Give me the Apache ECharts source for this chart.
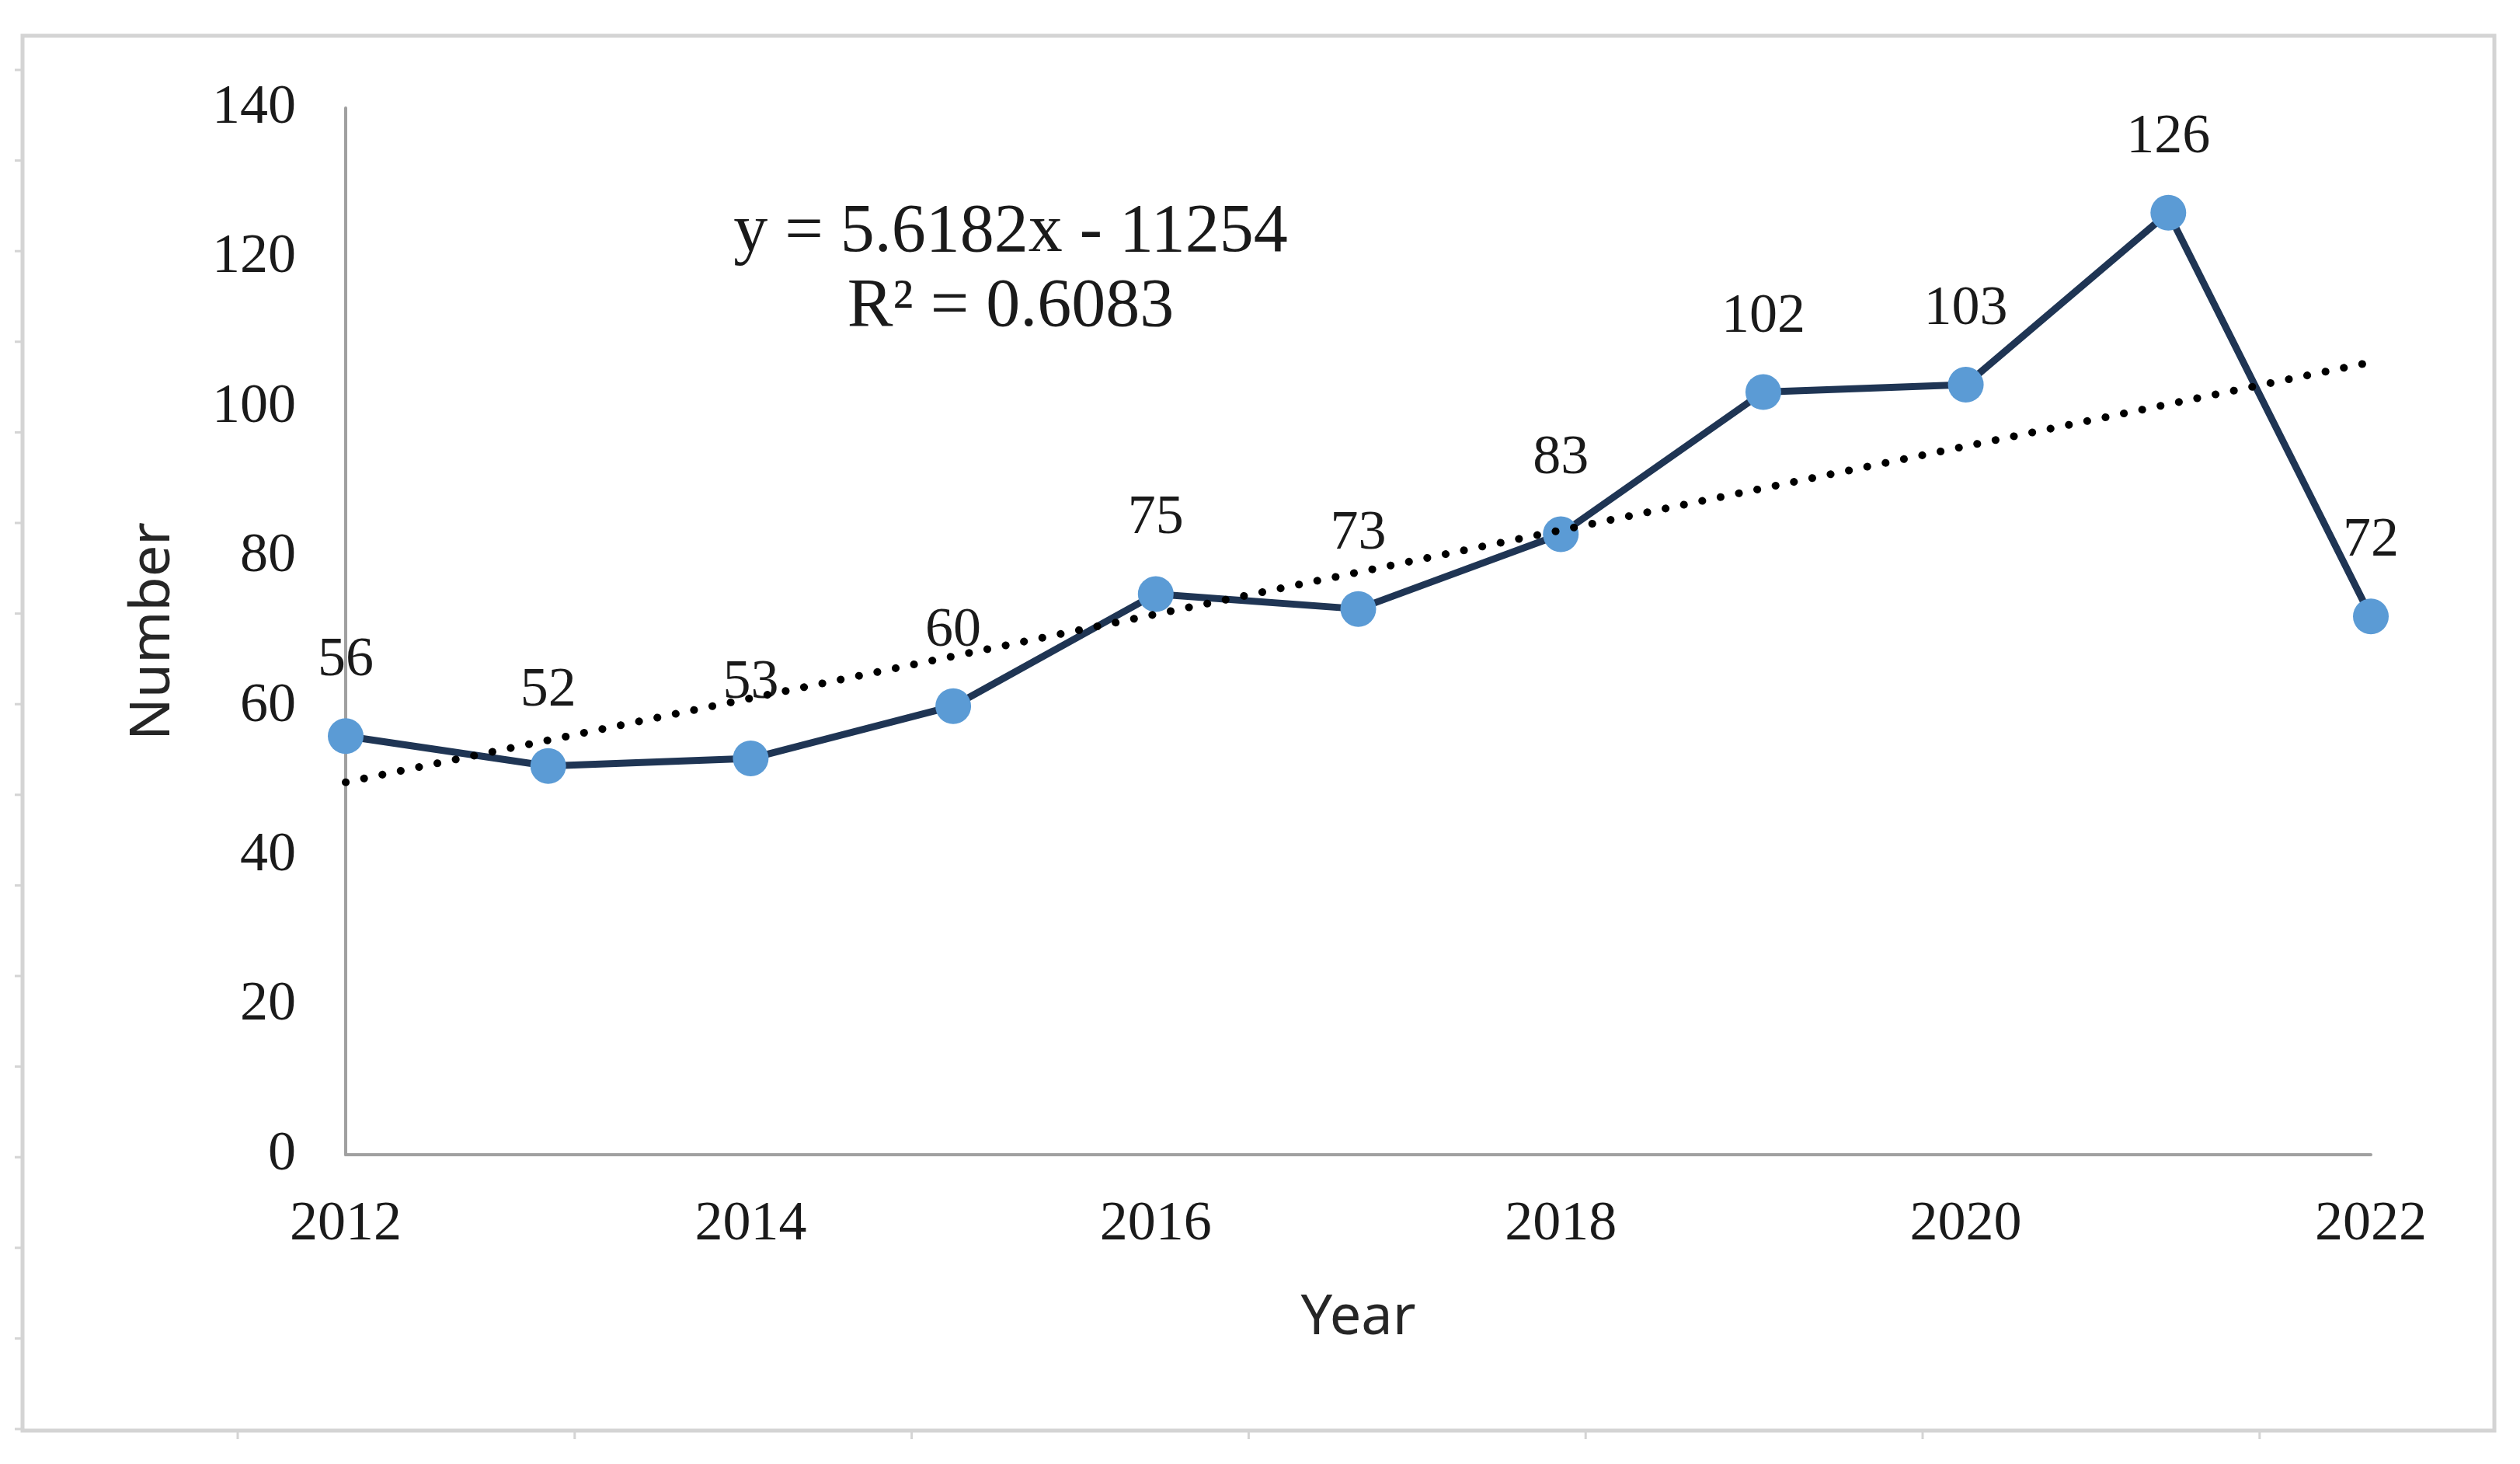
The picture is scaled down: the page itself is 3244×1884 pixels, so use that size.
<!DOCTYPE html>
<html>
<head>
<meta charset="utf-8">
<script src="https://cdn.jsdelivr.net/npm/echarts@6/dist/echarts.min.js"></script>
<style>
  html, body { margin: 0; padding: 0; background: #ffffff; }
  #chart { width: 3244px; height: 1884px; }
</style>
</head>
<body>
<div id="chart"></div>
<script>
// ---- data ----
const years = [2012, 2013, 2014, 2015, 2016, 2017, 2018, 2019, 2020, 2021, 2022];
const counts = [56, 52, 53, 60, 75, 73, 83, 102, 103, 126, 72];
const xTicks = [2012, 2014, 2016, 2018, 2020, 2022];
const yTicks = [0, 20, 40, 60, 80, 100, 120, 140];
// linear trendline as printed on the chart
const trendSlope = 5.6182;
const trendIntercept = -11254;
const trendR2 = 0.6083;

const serif = '"Liberation Serif", "Times New Roman", serif';
const sans = '"Noto Sans", "Open Sans", sans-serif';

const lineData = years.map((y, i) => [y, counts[i]]);
const trendX = [years[0], years[years.length - 1]];
const trendData = trendX.map(x => [x, trendSlope * x + trendIntercept]);

// decorative frame ticks (outside the chart-area border)
const frameGraphics = [];
frameGraphics.push({
  type: 'rect', z: 0,
  shape: { x: 29, y: 46, width: 3182, height: 1795 },
  style: { fill: 'none', stroke: '#d4d4d4', lineWidth: 5 }
});
for (let k = 0; k < 16; k++) {
  const yy = 90 + k * 116.6;
  frameGraphics.push({ type: 'line', z: 0, shape: { x1: 19, y1: yy, x2: 29, y2: yy }, style: { stroke: '#d4d4d4', lineWidth: 3 } });
}
for (let k = 0; k < 7; k++) {
  const xx = 306 + k * 433.8;
  frameGraphics.push({ type: 'line', z: 0, shape: { x1: xx, y1: 1841, x2: xx, y2: 1852 }, style: { stroke: '#d4d4d4', lineWidth: 3 } });
}

const chart = echarts.init(document.getElementById('chart'));
chart.setOption({
  backgroundColor: '#ffffff',
  animation: false,
  grid: { left: 445, top: 139, right: 192, bottom: 398, containLabel: false },
  xAxis: {
    type: 'value',
    min: xTicks[0],
    max: xTicks[xTicks.length - 1],
    interval: xTicks[1] - xTicks[0],
    name: 'Year',
    nameLocation: 'middle',
    nameGap: 174,
    nameTextStyle: { fontFamily: sans, fontSize: 72, color: '#262626' },
    axisLine: { show: true, lineStyle: { color: '#a0a0a0', width: 4 } },
    axisTick: { show: false },
    splitLine: { show: false },
    axisLabel: {
      margin: 54,
      fontFamily: serif, fontSize: 72, color: '#1a1a1a',
      formatter: v => String(v)
    }
  },
  yAxis: {
    type: 'value',
    min: yTicks[0],
    max: yTicks[yTicks.length - 1],
    interval: yTicks[1] - yTicks[0],
    name: 'Number',
    nameLocation: 'middle',
    nameGap: 212,
    nameRotate: 90,
    nameTextStyle: { fontFamily: sans, fontSize: 72, color: '#262626' },
    axisLine: { show: true, lineStyle: { color: '#a0a0a0', width: 4 } },
    axisTick: { show: false },
    splitLine: { show: false },
    axisLabel: {
      margin: 64,
      fontFamily: serif, fontSize: 72, color: '#1a1a1a'
    }
  },
  graphic: frameGraphics.concat([
    {
      type: 'text', z: 10,
      style: {
        x: 1301, y: 300,
        text: 'y = ' + trendSlope + 'x - ' + Math.abs(trendIntercept),
        fontFamily: serif, fontSize: 88, fill: '#1a1a1a',
        textAlign: 'center', textVerticalAlign: 'middle'
      }
    },
    {
      type: 'text', z: 10,
      style: {
        x: 1301, y: 396,
        text: 'R\u00B2 = ' + trendR2,
        fontFamily: serif, fontSize: 88, fill: '#1a1a1a',
        textAlign: 'center', textVerticalAlign: 'middle'
      }
    }
  ]),
  series: [
    {
      type: 'line',
      data: lineData,
      z: 3,
      symbol: 'circle',
      symbolSize: 46,
      lineStyle: { color: '#1f3554', width: 9 },
      itemStyle: { color: '#5b9bd5', borderWidth: 0 },
      label: {
        show: true, position: 'top', distance: 38,
        fontFamily: serif, fontSize: 72, color: '#1a1a1a'
      }
    },
    {
      type: 'line',
      data: trendData,
      z: 4,
      symbol: 'none',
      silent: true,
      lineStyle: { color: '#000000', width: 10, type: [0.1, 24], cap: 'round' }
    }
  ]
});
</script>
</body>
</html>
